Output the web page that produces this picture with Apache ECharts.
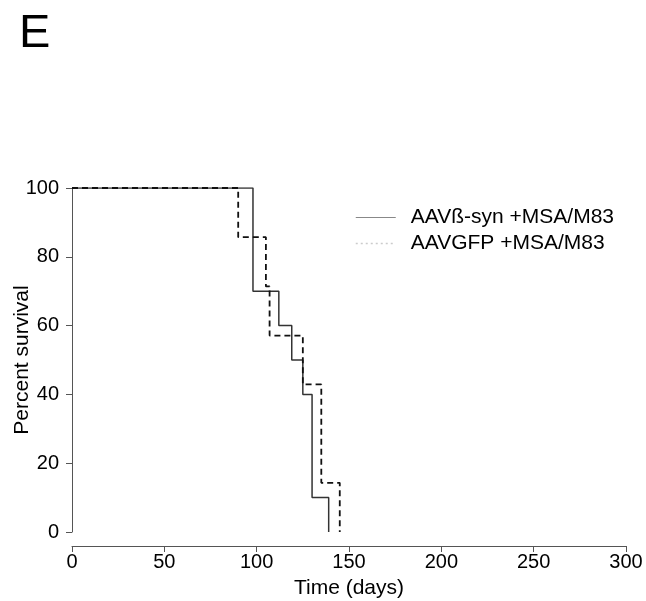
<!DOCTYPE html>
<html>
<head>
<meta charset="utf-8">
<script src="https://cdn.jsdelivr.net/npm/echarts@6/dist/echarts.min.js"></script>
<style>
  html, body { margin: 0; padding: 0; background: #fff; }
  #main { width: 646px; height: 601px; }
</style>
</head>
<body>
<div id="main"></div>
<script>
// Kaplan-Meier steps: time of each event (days) and survival (%) after it
var synTimes = [0, 98, 112, 119, 125, 130, 139];
var synSurvival = [100, 70, 60, 50, 40, 10, 0];
var gfpTimes = [0, 90, 105, 107, 125, 135, 145];
var gfpSurvival = [100, 85.7, 71.4, 57.1, 42.9, 14.3, 0];
var seriesNames = ['AAVß-syn +MSA/M83', 'AAVGFP +MSA/M83'];

function pairs(xs, ys) {
  return xs.map(function (x, i) { return [x, ys[i]]; });
}

var myChart = echarts.init(document.getElementById('main'));
var font = 'Liberation Sans, Arial, sans-serif';
var axisColor = '#555';

var option = {
  animation: false,
  title: {
    text: 'E',
    left: 14,
    top: 6,
    textStyle: { fontFamily: font, fontSize: 47, fontWeight: 'normal', color: '#000' }
  },
  legend: {
    data: [
      { name: seriesNames[0], itemStyle: { opacity: 0 }, lineStyle: { color: '#888', width: 1, type: 'solid' } },
      { name: seriesNames[1], itemStyle: { opacity: 0 }, lineStyle: { color: '#ccc', width: 1.5, type: [2, 3] } }
    ],
    orient: 'vertical',
    left: 350,
    top: 202,
    itemWidth: 40,
    itemHeight: 12,
    itemGap: 5,
    textStyle: { fontFamily: font, fontSize: 21, color: '#000', padding: [0, 0, 0, 10] }
  },
  grid: [
    { left: 72, right: 20, top: 188, bottom: 69, outerBoundsMode: 'none' },
    { left: 72, right: 20, top: 188, bottom: 55, outerBoundsMode: 'none' }
  ],
  xAxis: [
    { gridIndex: 0, type: 'value', min: 0, max: 300, show: false },
    {
      gridIndex: 1, type: 'value', min: 0, max: 300, interval: 50,
      name: 'Time (days)', nameLocation: 'middle', nameGap: 32,
      nameTextStyle: { fontFamily: font, fontSize: 21, color: '#000' },
      axisLine: { lineStyle: { color: axisColor, width: 1 } },
      axisTick: { length: 6, lineStyle: { color: axisColor } },
      axisLabel: { fontFamily: font, fontSize: 20, color: '#000', margin: 6 },
      splitLine: { show: false }
    }
  ],
  yAxis: [
    {
      gridIndex: 0, type: 'value', min: 0, max: 100, interval: 20,
      name: 'Percent survival', nameLocation: 'middle', nameGap: 39,
      nameMoveOverlap: false,
      nameTextStyle: { fontFamily: font, fontSize: 21, color: '#000' },
      axisLine: { show: true, lineStyle: { color: axisColor, width: 1 } },
      axisTick: { show: true, length: 6, lineStyle: { color: axisColor } },
      axisLabel: { fontFamily: font, fontSize: 20, color: '#000', margin: 13 },
      splitLine: { show: false }
    },
    { gridIndex: 1, type: 'value', min: 0, max: 100, show: false }
  ],
  series: [
    {
      name: seriesNames[0],
      type: 'line',
      step: 'end',
      xAxisIndex: 0, yAxisIndex: 0,
      symbol: 'none',
      data: pairs(synTimes, synSurvival),
      itemStyle: { color: '#888' },
      lineStyle: { color: '#333', width: 1.5, type: 'solid' }
    },
    {
      name: seriesNames[1],
      type: 'line',
      step: 'end',
      xAxisIndex: 0, yAxisIndex: 0,
      symbol: 'none',
      data: pairs(gfpTimes, gfpSurvival),
      itemStyle: { color: '#ccc' },
      lineStyle: { color: '#111', width: 1.8, type: [6, 4] }
    }
  ]
};

myChart.setOption(option);
</script>
</body>
</html>
